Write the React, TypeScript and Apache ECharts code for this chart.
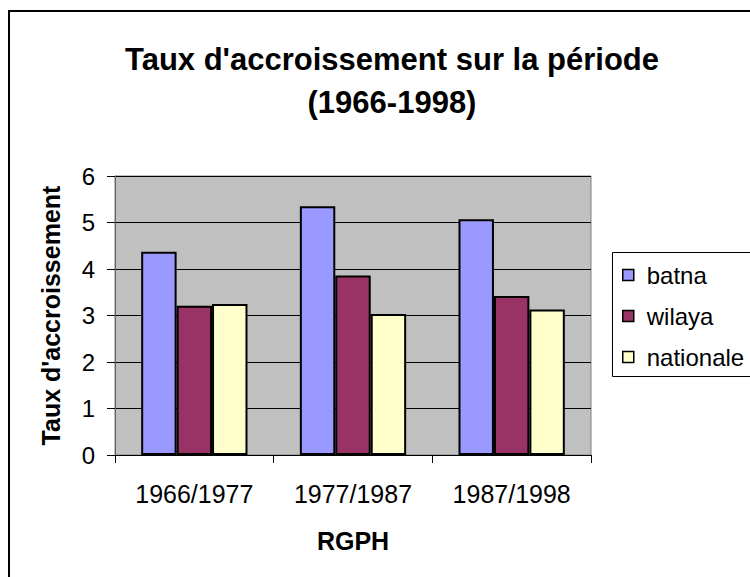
import React, { useEffect, useRef } from "react";
import * as echarts from "echarts";

const categories = ["1966/1977", "1977/1987", "1987/1998"];
const batna = [4.37, 5.35, 5.07];
const wilaya = [3.21, 3.86, 3.42];
const nationale = [3.25, 3.03, 3.13];
const seriesNames = ["batna", "wilaya", "nationale"];
const seriesColors = ["#9999FF", "#993366", "#FFFFCC"];
const yTicks = { min: 0, max: 6, interval: 1 };

const FONT = "'Liberation Sans', Arial, sans-serif";

export default function App() {
  const ref = useRef<HTMLDivElement>(null);
  useEffect(() => {
    if (!ref.current) return;
    const chart = echarts.init(ref.current, undefined, { renderer: "svg" });
    const data = [batna, wilaya, nationale];
    chart.setOption({
      animation: false,
      backgroundColor: "#ffffff",
      textStyle: { fontFamily: FONT },
      title: {
        text: "Taux d'accroissement sur la période\n(1966-1998)",
        left: 387,
        textAlign: "center",
        top: 33,
        textStyle: {
          fontFamily: FONT,
          fontSize: 31,
          fontWeight: "bold",
          color: "#000",
          lineHeight: 43,
        },
      },
      graphic: [
        {
          type: "rect",
          shape: { x: 9, y: 11, width: 900, height: 800 },
          style: { fill: "none", stroke: "#000", lineWidth: 2 },
          silent: true,
          z: -1,
        },
        {
          type: "rect",
          shape: { x: 612.5, y: 252.5, width: 300, height: 124 },
          style: { fill: "none", stroke: "#000", lineWidth: 1 },
          silent: true,
          z: 5,
        },
      ],
      legend: {
        orient: "vertical",
        left: 612,
        top: 252,
        padding: [11, 10, 7, 10],
        itemGap: 17,
        itemWidth: 11,
        itemHeight: 11,
        borderWidth: 0,
        icon: "rect",
        itemStyle: { borderColor: "#000", borderWidth: 1.5 },
        textStyle: {
          fontFamily: FONT,
          fontSize: 24,
          color: "#000",
          lineHeight: 24,
          padding: [0, 0, 0, 8],
        },
        data: seriesNames,
      },
      grid: {
        left: 115,
        top: 176,
        right: 159,
        bottom: 122,
        show: true,
        backgroundColor: "#C0C0C0",
        borderColor: "#808080",
        borderWidth: 1,
        containLabel: false,
        outerBoundsMode: "none",
      },
      xAxis: {
        type: "category",
        data: categories,
        name: "RGPH",
        nameLocation: "middle",
        nameGap: 73,
        nameTextStyle: {
          fontFamily: FONT,
          fontSize: 25,
          fontWeight: "bold",
          color: "#000",
        },
        axisLine: { show: true, lineStyle: { color: "#000", width: 1 } },
        axisTick: { show: true, length: 8, lineStyle: { color: "#000" } },
        axisLabel: {
          fontFamily: FONT,
          fontSize: 25,
          color: "#000",
          margin: 26,
        },
      },
      yAxis: {
        type: "value",
        min: yTicks.min,
        max: yTicks.max,
        interval: yTicks.interval,
        name: "Taux d'accroissement",
        nameLocation: "middle",
        nameGap: 52,
        nameTextStyle: {
          fontFamily: FONT,
          fontSize: 25,
          fontWeight: "bold",
          color: "#000",
        },
        axisLine: { show: true, lineStyle: { color: "#606060", width: 1 } },
        axisTick: { show: true, length: 8, lineStyle: { color: "#000" } },
        splitLine: { show: true, lineStyle: { color: "#000", width: 1 } },
        axisLabel: {
          fontFamily: FONT,
          fontSize: 24,
          color: "#000",
          margin: 20,
        },
      },
      series: seriesNames.map((name, i) => ({
        name,
        type: "bar",
        data: data[i],
        barGap: "0%",
        barCategoryGap: "33%",
        itemStyle: {
          color: seriesColors[i],
          borderColor: "#000",
          borderWidth: 2,
        },
      })),
    });
    return () => chart.dispose();
  }, []);
  return (
    <div
      ref={ref}
      style={{ position: "fixed", left: 0, top: 0, width: 750, height: 577 }}
    />
  );
}
